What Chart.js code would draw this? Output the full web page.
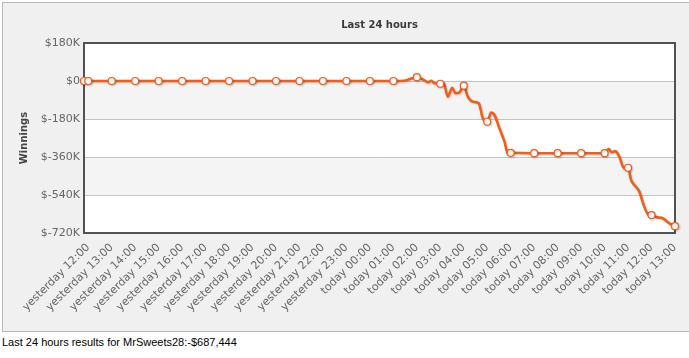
<!DOCTYPE html>
<html>
<head>
<meta charset="utf-8">
<script src="https://cdn.jsdelivr.net/npm/chart.js@4/dist/chart.umd.min.js"></script>
<style>
  html, body { margin: 0; padding: 0; background: #ffffff; width: 689px; height: 358px; overflow: hidden; }
  #box { position: absolute; left: 2px; top: 2px; width: 720px; height: 328px; border: 1px solid #b8b8b8; background: #f0f0f0; }
  #c { position: absolute; left: 0; top: 0; }
  #note { position: absolute; left: 2px; top: 336px; font: 11px "Liberation Sans", Arial, sans-serif; color: #000; white-space: nowrap; }
</style>
</head>
<body>
<div id="box"></div>
<canvas id="c" width="689" height="330"></canvas>
<div id="note">Last 24 hours results for MrSweets28:-$687,444</div>
<script>
// ---- data (hours since "yesterday 12:00") ----
const hours = [-0.18, 0, 1, 2, 3, 4, 5, 6, 7, 8, 9, 10, 11, 12, 13, 13.45, 14, 14.34, 14.47, 14.62, 14.76, 15, 15.15, 15.32, 15.51, 15.65, 15.82, 16, 16.17, 16.39, 16.64, 16.81, 17, 17.17, 17.31, 17.52, 17.74, 17.88, 18, 19, 20, 21, 22, 22.17, 22.30, 22.46, 22.63, 22.84, 23, 23.13, 23.27, 23.48, 23.69, 23.91, 24, 24.26, 24.47, 24.76, 25];
const winnings = [0, 0, 0, 0, 0, 0, 0, 0, 0, 0, 0, 0, 0, 0, 0, 1000, 18000, 2000, -6000, 1000, -11000, -13000, -11000, -74000, -32000, -58000, -54000, -22000, -74000, -98000, -106000, -176000, -193000, -150000, -161000, -224000, -288000, -345000, -340000, -342000, -342000, -342000, -342000, -322000, -338000, -332000, -359000, -414000, -411000, -469000, -493000, -524000, -595000, -639000, -635000, -646000, -650000, -674000, -687444];
const xTickValues = [0, 1, 2, 3, 4, 5, 6, 7, 8, 9, 10, 11, 12, 13, 14, 15, 16, 17, 18, 19, 20, 21, 22, 23, 24, 25];
const xTickLabels = ["yesterday 12:00", "yesterday 13:00", "yesterday 14:00", "yesterday 15:00", "yesterday 16:00", "yesterday 17:00", "yesterday 18:00", "yesterday 19:00", "yesterday 20:00", "yesterday 21:00", "yesterday 22:00", "yesterday 23:00", "today 00:00", "today 01:00", "today 02:00", "today 03:00", "today 04:00", "today 05:00", "today 06:00", "today 07:00", "today 08:00", "today 09:00", "today 10:00", "today 11:00", "today 12:00", "today 13:00"];
const yTickValues = [180000, 0, -180000, -360000, -540000, -720000];
const yTickLabels = ["$180K", "$0", "$-180K", "$-360K", "$-540K", "$-720K"];
const chartTitle = "Last 24 hours";
const yAxisTitle = "Winnings";

const points = hours.map((h, i) => ({ x: h, y: winnings[i] }));
const LINE = '#ee5f1b';

const decor = {
  id: 'decor',
  beforeDraw(chart) {
    const { ctx, chartArea: a, scales: { y } } = chart;
    ctx.save();
    const vals = [...yTickValues].sort((p, q) => q - p);
    for (let i = 0; i < vals.length - 1; i++) {
      const t = y.getPixelForValue(vals[i]);
      const b = y.getPixelForValue(vals[i + 1]);
      ctx.fillStyle = (i % 2 === 1) ? '#f4f4f4' : '#ffffff';
      ctx.fillRect(a.left, t, a.right - a.left, b - t);
    }
    ctx.fillStyle = '#3a3a3a';
    ctx.font = 'bold 10px "DejaVu Sans", Verdana, sans-serif';
    ctx.textAlign = 'center';
    ctx.textBaseline = 'middle';
    ctx.fillText(chartTitle, (a.left + a.right) / 2, 25.5);
    ctx.restore();
  },
  beforeDatasetsDraw(chart) {
    const { ctx, chartArea: a } = chart;
    ctx.save();
    ctx.strokeStyle = '#525252';
    ctx.lineWidth = 2;
    ctx.strokeRect(a.left, a.top, a.right - a.left, a.bottom - a.top);
    ctx.restore();
  },
  beforeDatasetDraw(chart) {
    const ctx = chart.ctx;
    ctx.save();
    ctx.shadowColor = 'rgba(0,0,0,0.18)';
    ctx.shadowOffsetX = 1;
    ctx.shadowOffsetY = 1;
    ctx.shadowBlur = 2;
  },
  afterDatasetDraw(chart) {
    chart.ctx.restore();
  }
};

new Chart(document.getElementById('c'), {
  type: 'line',
  data: {
    datasets: [{
      data: points,
      borderColor: LINE,
      borderWidth: 2.6,
      cubicInterpolationMode: 'monotone',
      pointRadius: (c) => (c.raw && (Number.isInteger(c.raw.x) || c.dataIndex === 0)) ? 3.5 : 0,
      pointHoverRadius: 0,
      pointBackgroundColor: '#ffffff',
      pointBorderColor: LINE,
      pointBorderWidth: 1.2,
      clip: false,
      fill: false
    }]
  },
  options: {
    responsive: false,
    devicePixelRatio: 1,
    animation: false,
    events: [],
    layout: { padding: { top: 43, right: 14, left: 0, bottom: 0 } },
    plugins: { legend: { display: false }, tooltip: { enabled: false }, title: { display: false } },
    scales: {
      x: {
        type: 'linear',
        min: hours[0],
        max: hours[hours.length - 1],
        afterBuildTicks: (s) => { s.ticks = xTickValues.map(v => ({ value: v })); },
        afterFit: (s) => { s.height = 97; s.paddingLeft = 0; s.paddingRight = 0; },
        grid: { display: false, drawTicks: false },
        border: { display: false },
        ticks: {
          autoSkip: false,
          maxRotation: 45,
          minRotation: 45,
          padding: 8,
          color: '#666666',
          font: { family: '"DejaVu Sans", Verdana, sans-serif', size: 11 },
          callback: (v) => { const i = xTickValues.indexOf(v); return i >= 0 ? xTickLabels[i] : ''; }
        }
      },
      y: {
        min: yTickValues[yTickValues.length - 1],
        max: yTickValues[0],
        afterBuildTicks: (s) => { s.ticks = [...yTickValues].reverse().map(v => ({ value: v })); },
        afterFit: (s) => { s.width = 84; },
        grid: { color: '#c4c4c4', lineWidth: 1, drawTicks: false },
        border: { display: false },
        title: {
          display: true,
          text: yAxisTitle,
          color: '#444444',
          font: { family: '"DejaVu Sans", Verdana, sans-serif', size: 10, weight: 'bold' },
          padding: { top: 18, bottom: 0 }
        },
        ticks: {
          padding: 4,
          color: '#666666',
          font: { family: '"DejaVu Sans", Verdana, sans-serif', size: 11 },
          callback: (v) => { const i = yTickValues.indexOf(v); return i >= 0 ? yTickLabels[i] : ''; }
        }
      }
    }
  },
  plugins: [decor]
});
</script>
</body>
</html>
